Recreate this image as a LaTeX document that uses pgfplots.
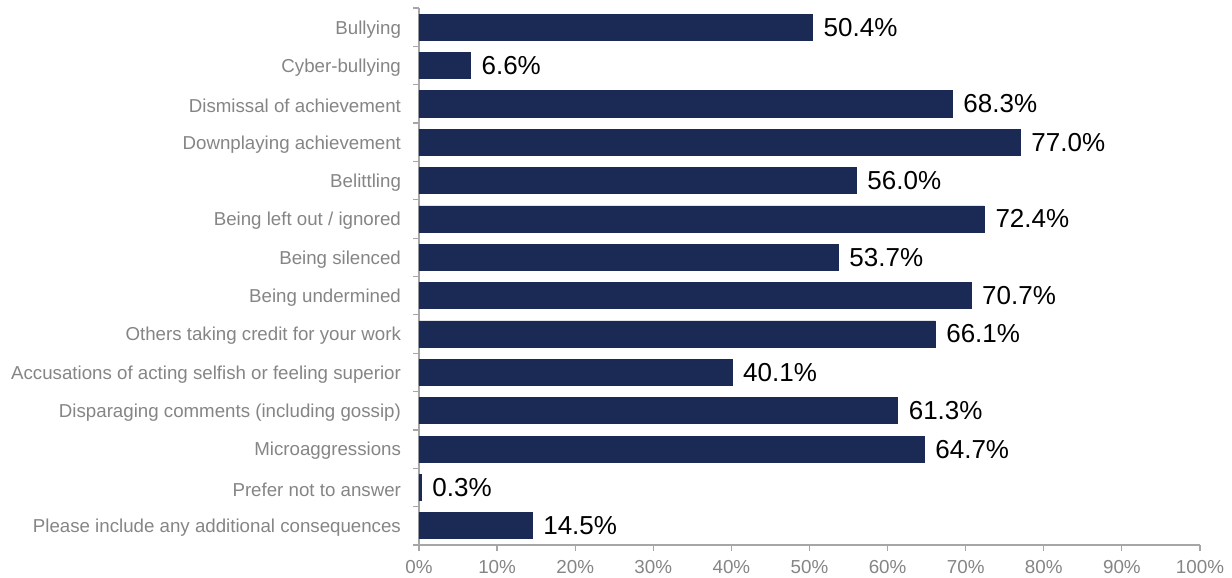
\documentclass[border=0pt]{standalone}
\usepackage{pgfplots}
\pgfplotsset{compat=1.18}
\usepackage{fontspec}
\setmainfont{Liberation Sans}
\definecolor{barblue}{HTML}{1B2A55}
\definecolor{labgray}{HTML}{858585}
\definecolor{axgray}{HTML}{A6A6A6}
\begin{document}
\begin{tikzpicture}
\path[use as bounding box] (-209.5pt,-16.5pt) rectangle (406.5pt,272.5pt);
\begin{axis}[
  scale only axis,
  width=390.5pt, height=268.5pt,
  xbar, bar width=0.68,
  xmin=0, xmax=100,
  ymin=-0.5, ymax=13.5,
  y dir=reverse,
  axis x line*=bottom, axis y line*=left,
  axis line style={axgray, line width=0.6pt},
  xtick={0,10,...,100},
  xticklabel={\pgfmathprintnumber{\tick}\%},
  /pgf/number format/assume math mode=true,
  tick align=outside,
  major tick length=3pt,
  x tick style={axgray, line width=0.6pt},
  ytick={0,...,13},
  y tick style={draw=none},
  minor ytick={-0.5,0.5,...,13.5},
  minor y tick style={axgray, line width=0.6pt, draw=axgray},
  minor tick length=3pt,
  yticklabels={Bullying, Cyber-bullying, Dismissal of achievement, Downplaying achievement, Belittling, Being left out / ignored, Being silenced, Being undermined, Others taking credit for your work, Accusations of acting selfish or feeling superior, Disparaging comments (including gossip), Microaggressions, Prefer not to answer, Please include any additional consequences},
  yticklabel style={font=\fontsize{9.35}{10}\selectfont, text=labgray, xshift=-2.5pt, yshift=-1pt},
  xticklabel style={font=\fontsize{9.4}{10}\selectfont, text=labgray, yshift=-1pt},
  nodes near coords={\pgfmathprintnumber[fixed,fixed zerofill,precision=1]{\pgfplotspointmeta}\%},
  nodes near coords style={font=\fontsize{13}{15}\selectfont, text=black, anchor=west, xshift=2pt},
  clip=false,
]
\addplot[fill=barblue, draw=barblue] coordinates {
(50.4,0) (6.6,1) (68.3,2) (77.0,3) (56.0,4) (72.4,5) (53.7,6) (70.7,7) (66.1,8) (40.1,9) (61.3,10) (64.7,11) (0.3,12) (14.5,13)
};
\end{axis}
\end{tikzpicture}
\end{document}
